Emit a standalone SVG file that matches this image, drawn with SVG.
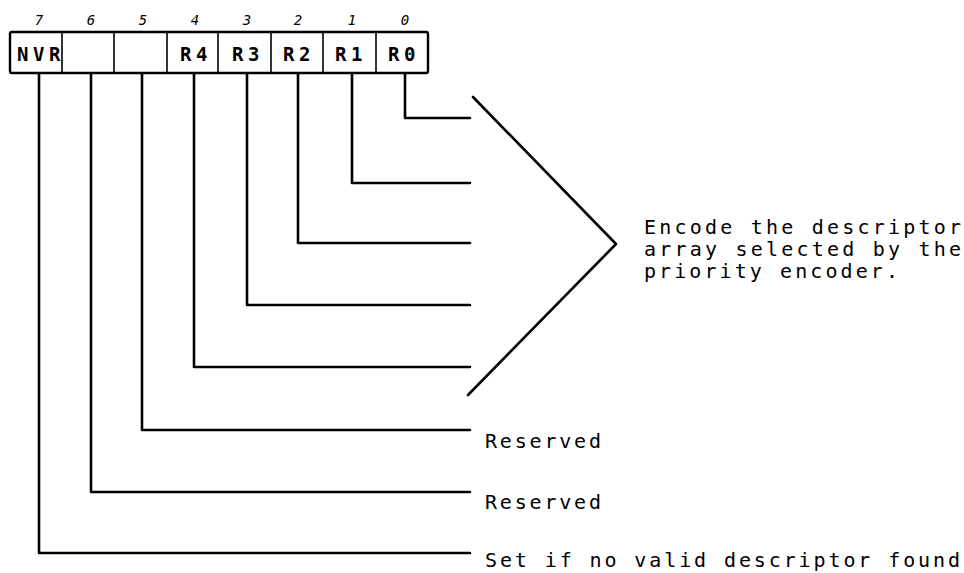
<svg xmlns="http://www.w3.org/2000/svg" width="964" height="573" viewBox="0 0 964 573">
<style>
  .ln { fill: none; stroke: #000; stroke-width: 2.6; stroke-linejoin: round; stroke-linecap: round; }
  .box { fill: #fff; stroke: #000; stroke-width: 2.4; }
  .div { stroke: #000; stroke-width: 1.6; }
  .t { font-family: "DejaVu Sans Mono", "Liberation Mono", monospace; font-size: 20px; fill: #000; }
  .lab { font-family: "DejaVu Sans Mono", "Liberation Mono", monospace; font-size: 19px; font-weight: bold; letter-spacing: 4.5px; fill: #000; }
  .num { font-family: "DejaVu Sans Mono", "Liberation Mono", monospace; font-size: 14px; font-style: italic; fill: #000; text-anchor: middle; }
</style>
<rect width="964" height="573" fill="#fff"/>
<g id="register">
  <rect class="box" x="10" y="32" width="418" height="41" rx="2"/>
  <line class="div" x1="62" y1="32" x2="62" y2="73"/>
  <line class="div" x1="114" y1="32" x2="114" y2="73"/>
  <line class="div" x1="167" y1="32" x2="167" y2="73"/>
  <line class="div" x1="218" y1="32" x2="218" y2="73"/>
  <line class="div" x1="271" y1="32" x2="271" y2="73"/>
  <line class="div" x1="323" y1="32" x2="323" y2="73"/>
  <line class="div" x1="376" y1="32" x2="376" y2="73"/>
  <text class="lab" x="17" y="61">NVR</text>
  <text class="lab" x="180" y="61">R4</text>
  <text class="lab" x="232" y="61">R3</text>
  <text class="lab" x="283" y="61">R2</text>
  <text class="lab" x="335" y="61">R1</text>
  <text class="lab" x="388" y="61">R0</text>
  <text class="num" x="39" y="25">7</text>
  <text class="num" x="91" y="25">6</text>
  <text class="num" x="143" y="25">5</text>
  <text class="num" x="195" y="25">4</text>
  <text class="num" x="247" y="25">3</text>
  <text class="num" x="298" y="25">2</text>
  <text class="num" x="352" y="25">1</text>
  <text class="num" x="405" y="25">0</text>
</g>
<g id="connectors">
  <polyline class="ln" points="405,74 405,118 470,118"/>
  <polyline class="ln" points="352,74 352,183 470,183"/>
  <polyline class="ln" points="298,74 298,243 470,243"/>
  <polyline class="ln" points="247,74 247,305 470,305"/>
  <polyline class="ln" points="194,74 194,367 470,367"/>
  <polyline class="ln" points="142,74 142,430 470,430"/>
  <polyline class="ln" points="91,74 91,492 470,492"/>
  <polyline class="ln" points="39,74 39,553 470,553"/>
  <polyline class="ln" points="473,97 616,244 468,395"/>
</g>
<g id="label-encode">
  <text class="t" x="644" y="234" textLength="317" lengthAdjust="spacing">Encode the descriptor</text>
  <text class="t" x="644" y="256" textLength="317" lengthAdjust="spacing">array selected by the</text>
  <text class="t" x="644" y="278" textLength="254" lengthAdjust="spacing">priority encoder.</text>
</g>
<g id="label-reserved-5">
  <text class="t" x="485" y="448" textLength="116" lengthAdjust="spacing">Reserved</text>
</g>
<g id="label-reserved-6">
  <text class="t" x="485" y="509" textLength="116" lengthAdjust="spacing">Reserved</text>
</g>
<g id="label-nvr">
  <text class="t" x="485" y="567" textLength="475" lengthAdjust="spacing">Set if no valid descriptor found</text>
</g>
</svg>
